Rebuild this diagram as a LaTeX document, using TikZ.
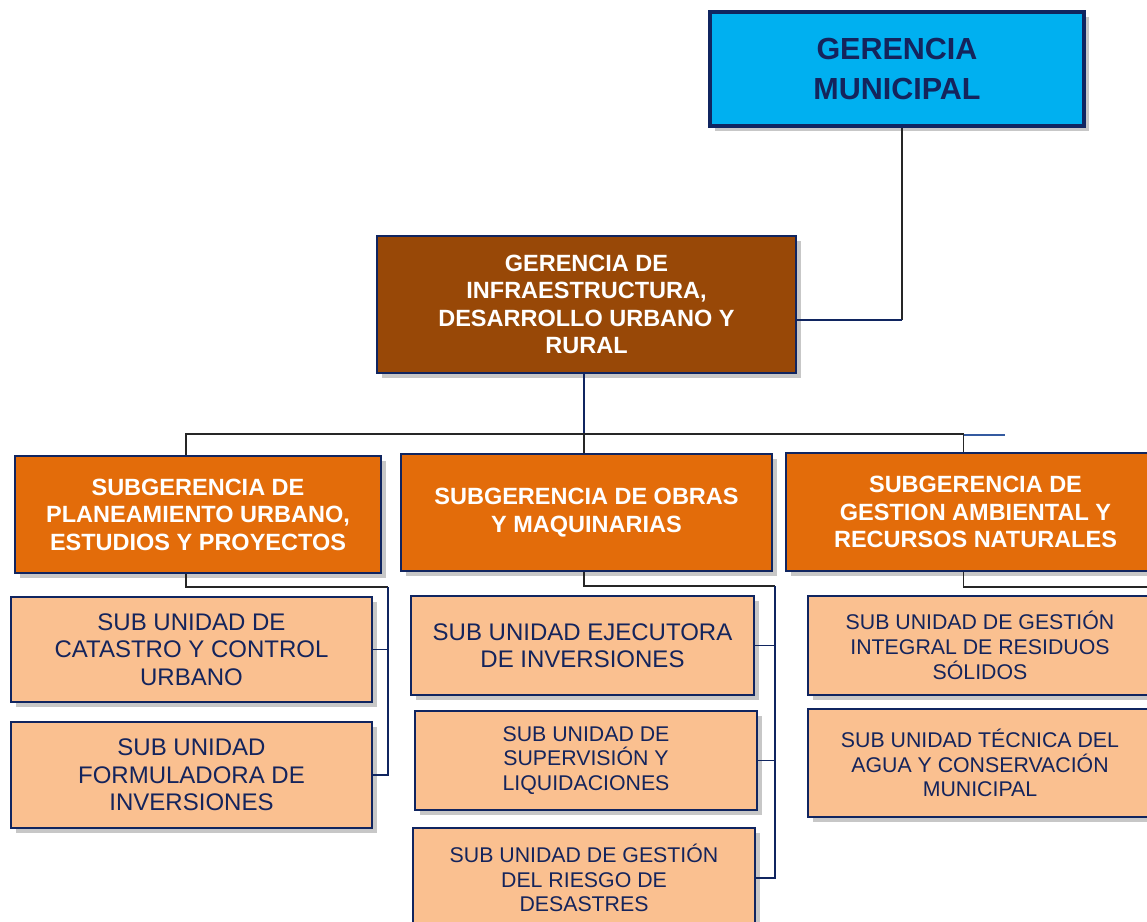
\documentclass[tikz,border=0pt]{standalone}
\usepackage{fontspec}
\setmainfont{Liberation Sans}
\usetikzlibrary{positioning,shadows}
\definecolor{navy_out}{RGB}{16, 37, 96}
\definecolor{navy_txt}{RGB}{20, 36, 92}
\definecolor{cyan_fil}{RGB}{0, 176, 240}
\definecolor{brown_fil}{RGB}{152, 72, 7}
\definecolor{orange_fil}{RGB}{227, 108, 10}
\definecolor{peach_fil}{RGB}{250, 192, 144}
\definecolor{stub_blue}{RGB}{52, 90, 160}
\newcommand\topfont{\fontsize{30.5}{40}\selectfont\bfseries}
\newcommand\headfont{\fontsize{23.5}{27.5}\selectfont\bfseries}
\newcommand\unitfont{\fontsize{24}{27.5}\selectfont}
\newcommand\unitsmall{\fontsize{21.3}{24.7}\selectfont}
\tikzset{box/.style = {rectangle, inner sep=0pt, align=center, draw=navy_out, line width=2.5pt, drop shadow={shadow xshift=5pt, shadow yshift=-5pt, opacity=0.4, fill=black!55}}}
\tikzset{cyan_box/.style = {box, fill=cyan_fil, line width=3.5pt, text=navy_txt, font=\topfont}}
\tikzset{brown_box/.style = {box, fill=brown_fil, text=white, font=\headfont}}
\tikzset{orange_box/.style = {box, fill=orange_fil, text=white, font=\headfont}}
\tikzset{peach_box/.style = {box, fill=peach_fil, text=navy_txt, font=\unitfont}}
\tikzset{black_link/.style = {line width=1.3pt, black!85}}
\tikzset{navy_link/.style = {line width=1.3pt, navy_out}}

\begin{document}
\begin{tikzpicture}[x=1pt,y=-1pt]
\useasboundingbox (0,0) rectangle (1147,921);

\node[cyan_box, minimum width=374pt, minimum height=114pt] (gm) at (897,69) {GERENCIA\\MUNICIPAL};
\node[brown_box, minimum width=419pt, minimum height=137pt] (gidur) at (586.5,304.5) {GERENCIA DE\\INFRAESTRUCTURA,\\DESARROLLO URBANO Y\\RURAL};

\node[orange_box, minimum width=366pt, minimum height=117pt] (sg1) at (198,514.5) {SUBGERENCIA DE\\PLANEAMIENTO URBANO,\\ESTUDIOS Y PROYECTOS};
\node[orange_box, minimum width=371pt, minimum height=117pt] (sg2) at (586.5,512.5) {SUBGERENCIA DE OBRAS\\Y MAQUINARIAS};
\node[orange_box, minimum width=379pt, minimum height=118pt] (sg3) at (975.5,512) {SUBGERENCIA DE\\GESTION AMBIENTAL Y\\RECURSOS NATURALES};

\node[peach_box, minimum width=361pt, minimum height=105pt] (catastro) at (191.5,649.5) {SUB UNIDAD DE\\CATASTRO Y CONTROL\\URBANO};
\node[peach_box, minimum width=361pt, minimum height=106pt] (formuladora) at (191.5,775) {SUB UNIDAD\\FORMULADORA DE\\INVERSIONES};
\node[peach_box, minimum width=343pt, minimum height=99pt] (ejecutora) at (582.5,645.5) {SUB UNIDAD EJECUTORA\\DE INVERSIONES};
\node[peach_box, font=\unitsmall, minimum width=342pt, minimum height=99pt] (supervision) at (586,760.5) {SUB UNIDAD DE\\SUPERVISIÓN Y\\LIQUIDACIONES};
\node[peach_box, font=\unitsmall, minimum width=342pt, minimum height=100pt] (riesgo) at (584,878) {SUB UNIDAD DE GESTIÓN\\DEL RIESGO DE\\DESASTRES};
\node[peach_box, font=\unitsmall, minimum width=344pt, minimum height=99pt] (residuos) at (980,645.5) {SUB UNIDAD DE GESTIÓN\\INTEGRAL DE RESIDUOS\\SÓLIDOS};
\node[peach_box, font=\unitsmall, minimum width=344pt, minimum height=108pt] (agua) at (980,763) {SUB UNIDAD TÉCNICA DEL\\AGUA Y CONSERVACIÓN\\MUNICIPAL};

\coordinate (turn) at (902,320);
\coordinate (bus) at (584,434);
\coordinate (left_bus) at (388,587);
\coordinate (mid_bus) at (775,586);
\coordinate (right_bus) at (1160,587);

\draw[black_link] ([xshift=5pt]gm.south) -- (turn);
\draw[navy_link] (turn) -- (turn -| gidur.east);
\draw[navy_link] (gidur.south -| bus) -- (bus);
\draw[black_link] ([xshift=-12pt]sg1.north) |- (bus) -| ([xshift=-12pt]sg3.north);
\draw[black_link] (bus) -- (sg2.north -| bus);
\draw[line width=1.3pt, stub_blue] ([xshift=-12pt,yshift=-1pt]sg3.north |- bus) -- ++(41,0);

\draw[black_link] ([xshift=-12pt]sg1.south) |- (left_bus);
\draw[navy_link] (left_bus) |- (formuladora.east);
\draw[navy_link] (catastro.east) -- (catastro.east -| left_bus);

\draw[black_link] (sg2.south -| bus) |- (mid_bus);
\draw[navy_link] (mid_bus) |- (riesgo.east);
\draw[navy_link] (ejecutora.east) -- (ejecutora.east -| mid_bus);
\draw[navy_link] (supervision.east) -- (supervision.east -| mid_bus);

\draw[black_link] ([xshift=-12pt]sg3.south) |- (right_bus);
\end{tikzpicture}
\end{document}
